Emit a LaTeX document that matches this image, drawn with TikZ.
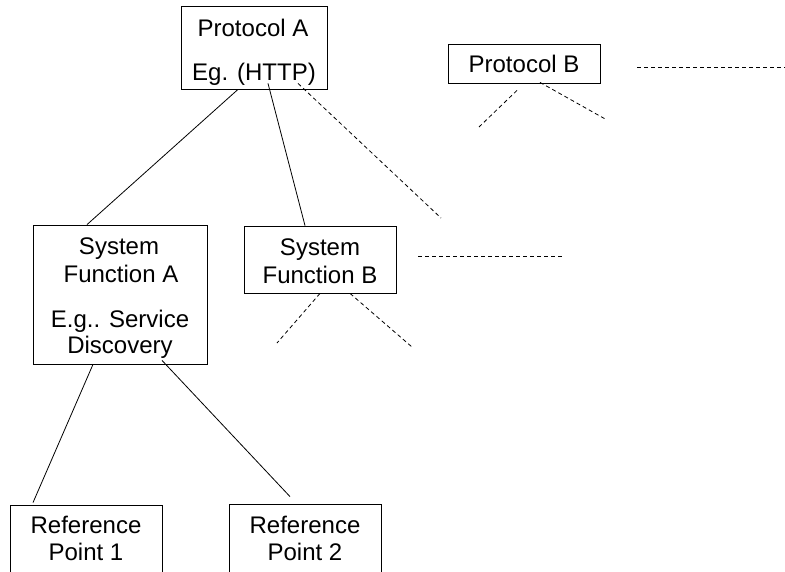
\documentclass[tikz,border=0pt]{standalone}
\usepackage{fontspec}
\setmainfont{Liberation Sans}
\tikzstyle{box}=[draw, rectangle, inner sep=0pt]
\tikzstyle{txt}=[anchor=base, inner sep=0pt, font=\fontsize{24}{27}\selectfont]
\tikzstyle{open}=[dash pattern=on 4pt off 3pt]

\begin{document}
\begin{tikzpicture}[x=1pt, y=-1pt, line width=0.8pt, black]
	\clip (0,0) rectangle (785,571);
	\fill[white] (0,0) rectangle (785,571);
% Boxes
	\node[box, minimum width=146pt, minimum height=83pt] (pa) at (254,47.5) {};
	\node[box, minimum width=152pt, minimum height=39pt] (pb) at (524,63.5) {};
	\node[box, minimum width=174pt, minimum height=139pt] (sfa) at (120,294.5) {};
	\node[box, minimum width=152pt, minimum height=67pt] (sfb) at (320,259.5) {};
	\node[box, minimum width=152pt, minimum height=86pt] (r1) at (86,548) {};
	\node[box, minimum width=152pt, minimum height=86pt] (r2) at (305,547) {};
% Labels
	\node[txt] (pa1) at (253,36) {Protocol A};
	\node[txt] (pa2) at (254,80) {Eg. (HTTP)};
	\node[txt] (pb1) at (524,72) {Protocol B};
	\node[txt] (sfa1) at (119,254) {System};
	\node[txt] (sfa2) at (121,282) {Function A};
	\node[txt] (sfa3) at (120,327) {E.g.. Service};
	\node[txt] (sfa4) at (120,353) {Discovery};
	\node[txt] (sfb1) at (320,255) {System};
	\node[txt] (sfb2) at (320,283) {Function B};
	\node[txt] (r11) at (86,533) {Reference};
	\node[txt] (r12) at (86,560) {Point 1};
	\node[txt] (r21) at (305,533) {Reference};
	\node[txt] (r22) at (305,560) {Point 2};
% Open ends
	\coordinate (pa-e) at (441,218);
	\coordinate (pb-l) at (479,127);
	\coordinate (pb-r) at (607,120);
	\coordinate (pb-e) at (785,67);
	\coordinate (sfb-e) at (562,256);
	\coordinate (sfb-l) at (277,343);
	\coordinate (sfb-r) at (412,347);
% Links
	\draw ([xshift=-16pt]pa.south) -- ([xshift=-33pt]sfa.north);
	\draw ([xshift=14pt,yshift=6pt]pa.south) -- ([xshift=-15pt]sfb.north);
	\draw ([xshift=-27pt]sfa.south) -- ([xshift=-53pt,yshift=2pt]r1.north);
	\draw ([xshift=42pt,yshift=4pt]sfa.south) -- ([xshift=-15pt,yshift=7pt]r2.north);
% Dashed links
	\draw[open] ([xshift=44pt,yshift=6pt]pa.south) -- (pa-e);
	\draw[open] ([xshift=-7pt,yshift=-7pt]pb.south) -- (pb-l);
	\draw[open] ([xshift=16pt,yshift=1pt]pb.south) -- (pb-r);
	\draw[open] ([xshift=37pt,yshift=-3.5pt]pb.east) -- (pb-e);
	\draw[open] ([xshift=22pt,yshift=3.5pt]sfb.east) -- (sfb-e);
	\draw[open] (sfb.south) -- (sfb-l);
	\draw[open] ([xshift=30pt]sfb.south) -- (sfb-r);
\end{tikzpicture}
\end{document}
